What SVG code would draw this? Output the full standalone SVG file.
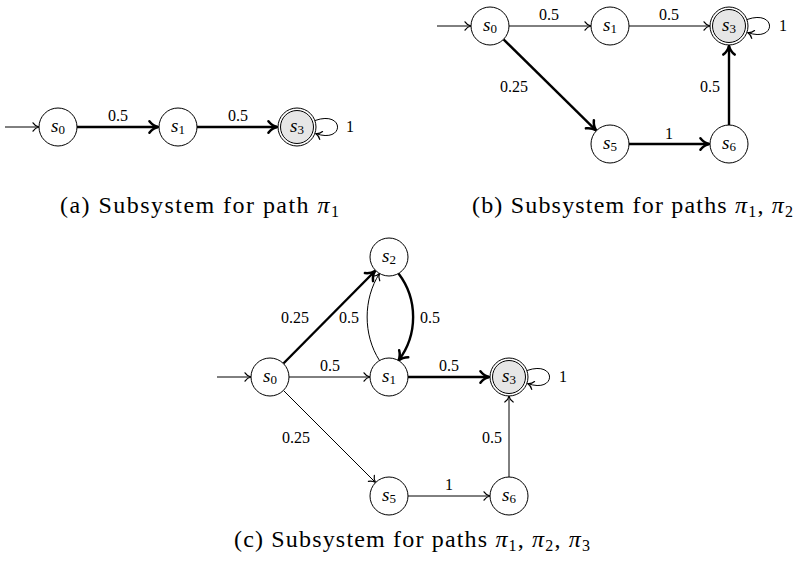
<svg xmlns="http://www.w3.org/2000/svg" width="807" height="564" viewBox="0 0 807 564">
<style>
.nd{fill:#fff;stroke:#000;stroke-width:1}
.acc{fill:#e6e6e6;stroke:#000;stroke-width:1}
.nl{font-family:"Liberation Serif","DejaVu Serif",serif;font-style:italic;font-size:19px;text-anchor:middle;fill:#000}
.sub{font-style:normal;font-size:13px}
.thin{fill:none;stroke:#000;stroke-width:1;marker-end:url(#ah)}
.thick{fill:none;stroke:#000;stroke-width:2.4;marker-end:url(#ahT)}
.el{font-family:"Liberation Serif","DejaVu Serif",serif;font-size:16px;text-anchor:middle;fill:#000}
.cap{font-family:"Liberation Serif","DejaVu Serif",serif;font-size:24px;fill:#000}
.csub{font-size:16px}
</style>
<defs>
<marker id="ah" markerUnits="userSpaceOnUse" markerWidth="12" markerHeight="12" viewBox="-7 -5 8 10" refX="0" refY="0" orient="auto">
<path d="M -5,-3.5 C -3.5,-1.2 -1.5,-0.3 0,0 C -1.5,0.3 -3.5,1.2 -5,3.5" fill="none" stroke="#000" stroke-width="1" stroke-linecap="round"/>
</marker>
<marker id="ahT" markerUnits="userSpaceOnUse" markerWidth="16" markerHeight="16" viewBox="-10 -7 11 14" refX="0" refY="0" orient="auto">
<path d="M -7.5,-5 C -5,-1.8 -2.2,-0.5 0,0 C -2.2,0.5 -5,1.8 -7.5,5" fill="none" stroke="#000" stroke-width="2.2" stroke-linecap="round" stroke-linejoin="round"/>
</marker>
</defs>

<g id="connectors">
<line class="thin" x1="5" y1="127" x2="39" y2="127"/>
<line class="thick" x1="77" y1="127" x2="158" y2="127"/>
<line class="thick" x1="197" y1="127" x2="277" y2="127"/>
<path class="thin" d="M 315,120.5 C 345,110 345,144 315.5,133.5"/>
<line class="thin" x1="437" y1="26" x2="471" y2="26"/>
<line class="thin" x1="509" y1="26" x2="591" y2="26"/>
<line class="thin" x1="629" y1="26" x2="710" y2="26"/>
<path class="thin" d="M 747,19.5 C 777,9 777,43 747.5,32.5"/>
<line class="thick" x1="503.5" y1="39.3" x2="596" y2="130.3"/>
<line class="thick" x1="629" y1="144" x2="709" y2="144"/>
<line class="thick" x1="729" y1="125" x2="729" y2="46"/>
<line class="thin" x1="217" y1="377" x2="251" y2="377"/>
<line class="thick" x1="283.4" y1="363.5" x2="375" y2="271"/>
<line class="thin" x1="289" y1="377" x2="370" y2="377"/>
<line class="thick" x1="408" y1="377" x2="489" y2="377"/>
<path class="thin" d="M 379.5,360.5 C 363,335 363,299 379.5,273.5"/>
<path class="thick" d="M 398.5,273.5 C 418,299 418,335 398.5,360.5"/>
<line class="thin" x1="283.4" y1="390.4" x2="375.6" y2="482.6"/>
<line class="thin" x1="408" y1="496" x2="490" y2="496"/>
<line class="thin" x1="509" y1="477" x2="509" y2="396"/>
<path class="thin" d="M 527,370.5 C 557,360 557,394 527.5,383.5"/>
</g>

<g id="edge-labels">
<text class="el" x="118" y="121">0.5</text>
<text class="el" x="238" y="121">0.5</text>
<text class="el" x="350" y="132">1</text>
<text class="el" x="549" y="20">0.5</text>
<text class="el" x="669" y="20">0.5</text>
<text class="el" x="783" y="31">1</text>
<text class="el" x="514" y="92">0.25</text>
<text class="el" x="669" y="139">1</text>
<text class="el" x="710" y="92">0.5</text>
<text class="el" x="295" y="323">0.25</text>
<text class="el" x="349" y="323">0.5</text>
<text class="el" x="430" y="323">0.5</text>
<text class="el" x="330" y="371">0.5</text>
<text class="el" x="449" y="371">0.5</text>
<text class="el" x="563" y="382">1</text>
<text class="el" x="296" y="443">0.25</text>
<text class="el" x="449" y="490">1</text>
<text class="el" x="492" y="443">0.5</text>
</g>

<g id="a-s0"><circle class="nd" cx="58" cy="127" r="19"/><text class="nl" x="58" y="132">s<tspan class="sub" dy="2">0</tspan></text></g>
<g id="a-s1"><circle class="nd" cx="178" cy="127" r="19"/><text class="nl" x="178" y="132">s<tspan class="sub" dy="2">1</tspan></text></g>
<g id="a-s3"><circle class="nd" cx="297" cy="127" r="19"/><circle class="acc" cx="297" cy="127" r="16.5"/><text class="nl" x="297" y="132">s<tspan class="sub" dy="2">3</tspan></text></g>

<g id="b-s0"><circle class="nd" cx="490" cy="26" r="19"/><text class="nl" x="490" y="31">s<tspan class="sub" dy="2">0</tspan></text></g>
<g id="b-s1"><circle class="nd" cx="610" cy="26" r="19"/><text class="nl" x="610" y="31">s<tspan class="sub" dy="2">1</tspan></text></g>
<g id="b-s3"><circle class="nd" cx="729" cy="26" r="19"/><circle class="acc" cx="729" cy="26" r="16.5"/><text class="nl" x="729" y="31">s<tspan class="sub" dy="2">3</tspan></text></g>
<g id="b-s5"><circle class="nd" cx="610" cy="144" r="19"/><text class="nl" x="610" y="149">s<tspan class="sub" dy="2">5</tspan></text></g>
<g id="b-s6"><circle class="nd" cx="729" cy="144" r="19"/><text class="nl" x="729" y="149">s<tspan class="sub" dy="2">6</tspan></text></g>

<g id="c-s2"><circle class="nd" cx="389" cy="257" r="19"/><text class="nl" x="389" y="262">s<tspan class="sub" dy="2">2</tspan></text></g>
<g id="c-s0"><circle class="nd" cx="270" cy="377" r="19"/><text class="nl" x="270" y="382">s<tspan class="sub" dy="2">0</tspan></text></g>
<g id="c-s1"><circle class="nd" cx="389" cy="377" r="19"/><text class="nl" x="389" y="382">s<tspan class="sub" dy="2">1</tspan></text></g>
<g id="c-s3"><circle class="nd" cx="509" cy="377" r="19"/><circle class="acc" cx="509" cy="377" r="16.5"/><text class="nl" x="509" y="382">s<tspan class="sub" dy="2">3</tspan></text></g>
<g id="c-s5"><circle class="nd" cx="389" cy="496" r="19"/><text class="nl" x="389" y="501">s<tspan class="sub" dy="2">5</tspan></text></g>
<g id="c-s6"><circle class="nd" cx="509" cy="496" r="19"/><text class="nl" x="509" y="501">s<tspan class="sub" dy="2">6</tspan></text></g>

<g id="captions">
<text class="cap" x="60" y="213" textLength="279" lengthAdjust="spacing">(a) Subsystem for path <tspan font-style="italic">π</tspan><tspan class="csub" dy="4">1</tspan></text>
<text class="cap" x="472" y="213" textLength="321" lengthAdjust="spacing">(b) Subsystem for paths <tspan font-style="italic">π</tspan><tspan class="csub" dy="4">1</tspan><tspan dy="-4">, </tspan><tspan font-style="italic">π</tspan><tspan class="csub" dy="4">2</tspan></text>
<text class="cap" x="234" y="547" textLength="356" lengthAdjust="spacing">(c) Subsystem for paths <tspan font-style="italic">π</tspan><tspan class="csub" dy="4">1</tspan><tspan dy="-4">, </tspan><tspan font-style="italic">π</tspan><tspan class="csub" dy="4">2</tspan><tspan dy="-4">, </tspan><tspan font-style="italic">π</tspan><tspan class="csub" dy="4">3</tspan></text>
</g>
</svg>
